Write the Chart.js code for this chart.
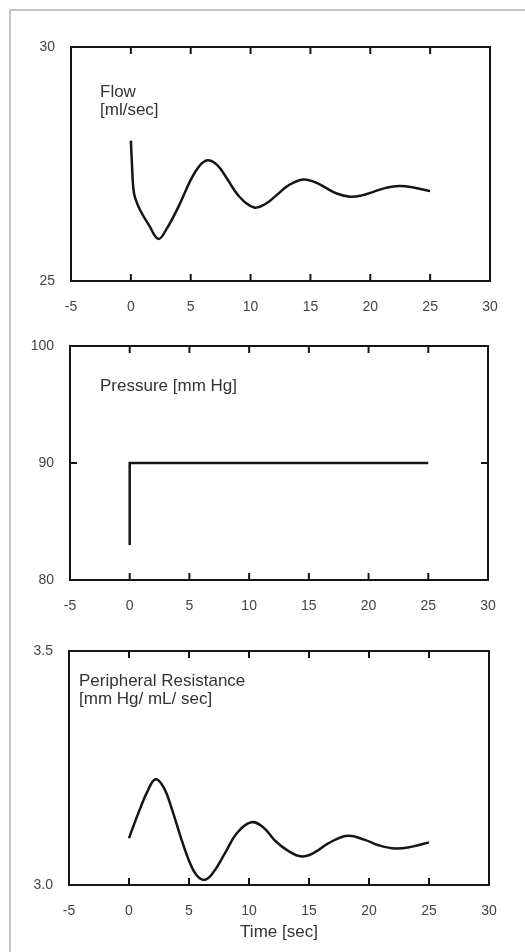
<!DOCTYPE html>
<html><head><meta charset="utf-8">
<script src="https://cdn.jsdelivr.net/npm/chart.js@4.4.1/dist/chart.umd.min.js"></script>
<style>
html,body{margin:0;padding:0;background:#fff;width:525px;height:952px;overflow:hidden;}
.frame{position:absolute;left:9px;top:9px;width:600px;height:1000px;border-top:2px solid #c4c4c4;border-left:2px solid #c4c4c4;}
.panel{position:absolute;left:0;width:525px;}
</style></head><body>
<div class="frame"></div>
<div class="panel" style="top:0;height:320px"><canvas id="c1"></canvas></div>
<div class="panel" style="top:299px;height:320px"><canvas id="c2"></canvas></div>
<div class="panel" style="top:604px;height:348px"><canvas id="c3"></canvas></div>
<script>
// ---- data ----
const xTicks = [-5, 0, 5, 10, 15, 20, 25, 30];

const flowTime   = [0, 0.1, 0.2, 0.35, 0.8, 1.5, 2.3, 3.0, 4.0, 5.0, 5.7, 6.4, 7.2, 8.0, 9.0, 10.3, 11.2, 12.2, 13.2, 14.4, 15.4, 16.3, 17.2, 18.3, 19.3, 20.3, 21.3, 22.4, 23.6, 25.0];
const flowValues = [28.0, 27.45, 27.0, 26.78, 26.5, 26.2, 25.9, 26.12, 26.6, 27.16, 27.45, 27.58, 27.48, 27.2, 26.82, 26.57, 26.64, 26.84, 27.05, 27.17, 27.11, 26.99, 26.87, 26.80, 26.83, 26.91, 26.99, 27.03, 27.0, 26.92];
const flowTicks  = [25, 30];

const pressureTime   = [0, 0, 25];
const pressureValues = [83, 90, 90];
const pressureTicks  = [80, 90, 100];

const resistanceTime   = [0, 0.5, 1.0, 1.5, 2.2, 2.9, 3.6, 4.3, 5.0, 5.6, 6.3, 7.0, 8.0, 9.0, 10.2, 11.2, 12.2, 13.2, 14.4, 15.5, 16.6, 18.2, 19.6, 20.8, 22.2, 23.6, 25.0];
const resistanceValues = [3.100, 3.135, 3.168, 3.198, 3.226, 3.208, 3.160, 3.103, 3.052, 3.022, 3.011, 3.026, 3.068, 3.111, 3.134, 3.123, 3.094, 3.074, 3.061, 3.070, 3.089, 3.105, 3.097, 3.085, 3.078, 3.082, 3.091];
const resistanceTicks  = [3.0, 3.5];

const flowLabel = ['Flow', '[ml/sec]'];
const pressureLabel = ['Pressure [mm Hg]'];
const resistanceLabel = ['Peripheral Resistance', '[mm Hg/ mL/ sec]'];
const xTitle = 'Time [sec]';

// ---- drawing ----
const FONT = '"Liberation Sans", Arial, Helvetica, sans-serif';

const framePlugin = {
  id: 'frame',
  afterDatasetsDraw(chart, args, o) {
    const {ctx, chartArea: a, scales: {x, y}} = chart;
    ctx.save();
    ctx.strokeStyle = '#161616';
    ctx.lineWidth = 2;
    ctx.lineJoin = 'miter';
    ctx.strokeRect(a.left, a.top, a.right - a.left, a.bottom - a.top);
    ctx.beginPath();
    x.ticks.forEach(t => {
      const px = x.getPixelForValue(t.value);
      if (px <= a.left + 2 || px >= a.right - 2) return;
      ctx.moveTo(px, a.top); ctx.lineTo(px, a.top + 7);
      ctx.moveTo(px, a.bottom); ctx.lineTo(px, a.bottom - 7);
    });
    y.ticks.forEach(t => {
      const py = y.getPixelForValue(t.value);
      if (py <= a.top + 2 || py >= a.bottom - 2) return;
      ctx.moveTo(a.left, py); ctx.lineTo(a.left + 7, py);
      ctx.moveTo(a.right, py); ctx.lineTo(a.right - 7, py);
    });
    ctx.stroke();
    ctx.fillStyle = '#333';
    ctx.font = '17px ' + FONT;
    ctx.textBaseline = 'middle';
    ctx.textAlign = 'left';
    o.lines.forEach((s, i) => ctx.fillText(s, a.left + o.dx, a.top + o.dy + i * o.lh));
    ctx.restore();
  }
};

function makePanel(id, times, values, yTicks, cfg) {
  const pts = times.map((t, i) => ({x: t, y: values[i]}));
  return new Chart(document.getElementById(id), {
    type: 'line',
    data: {datasets: [{
      data: pts,
      borderColor: '#151515',
      borderWidth: 2.5,
      pointRadius: 0,
      fill: false,
      tension: cfg.smooth ? 0.4 : 0,
      borderJoinStyle: 'miter',
      borderCapStyle: 'butt'
    }]},
    options: {
      responsive: true,
      maintainAspectRatio: false,
      animation: false,
      events: [],
      layout: {padding: {top: 47, right: 525 - cfg.right, left: 0, bottom: 0}},
      plugins: {
        legend: {display: false},
        tooltip: {enabled: false},
        frame: {lines: cfg.lines, dx: cfg.dx, dy: cfg.dy, lh: 18}
      },
      scales: {
        x: {
          type: 'linear', min: -5, max: 30,
          grid: {display: false},
          border: {display: false},
          afterBuildTicks: s => { s.ticks = xTicks.map(v => ({value: v})); },
          afterFit: s => { s.height = cfg.xh; },
          ticks: {padding: 10, color: '#444', font: {size: 14, family: FONT}, callback: v => String(v)},
          title: cfg.title ? {display: true, text: cfg.title, color: '#333', font: {size: 17, family: FONT}, padding: {top: 0, bottom: 9}} : {display: false}
        },
        y: {
          min: yTicks[0], max: yTicks[yTicks.length - 1],
          grid: {display: false},
          border: {display: false},
          afterBuildTicks: s => { s.ticks = yTicks.map(v => ({value: v})); },
          afterFit: s => { s.width = cfg.left; },
          ticks: {padding: 8, color: '#444', font: {size: 14, family: FONT}, callback: cfg.fmt}
        }
      }
    },
    plugins: [framePlugin]
  });
}

makePanel('c1', flowTime, flowValues, flowTicks, {
  smooth: true, left: 71, right: 490, xh: 39, lines: flowLabel, dx: 29, dy: 45, fmt: v => String(v)
});
makePanel('c2', pressureTime, pressureValues, pressureTicks, {
  smooth: false, left: 70, right: 488, xh: 39, lines: pressureLabel, dx: 30, dy: 40, fmt: v => String(v)
});
makePanel('c3', resistanceTime, resistanceValues, resistanceTicks, {
  smooth: true, left: 69, right: 489, xh: 67, lines: resistanceLabel, dx: 10, dy: 30, title: xTitle, fmt: v => v.toFixed(1)
});
</script>
</body></html>
